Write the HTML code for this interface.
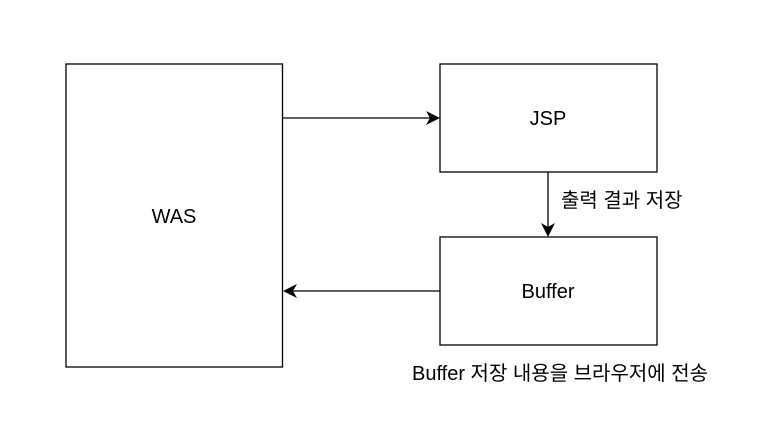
<!DOCTYPE html>
<html><head><meta charset="utf-8"><style>
html,body{margin:0;padding:0;background:#fff;}
svg{display:block;}
text{font-family:"Liberation Sans","Noto Sans CJK KR",sans-serif;fill:#000;}
</style></head><body>
<svg width="770" height="434" viewBox="0 0 770 434" xmlns="http://www.w3.org/2000/svg">
<rect width="770" height="434" fill="#fff"/>
<g fill="none" stroke="#000" stroke-width="1.3">
<rect x="66" y="64" width="216.5" height="303"/>
<rect x="440" y="64" width="217" height="108"/>
<rect x="440" y="237" width="217" height="108"/>
<line x1="282.5" y1="118" x2="430" y2="118"/>
<line x1="548" y1="172" x2="548" y2="227"/>
<line x1="440" y1="291" x2="293" y2="291"/>
</g>
<g fill="#000">
<polygon points="440,118 426,111 430,118 426,125"/>
<polygon points="548,237 541,223 548,227 555,223"/>
<polygon points="283,291 297,284 293,291 297,298"/>
</g>
<text x="174" y="223" font-size="20" text-anchor="middle">WAS</text>
<text x="548" y="125" font-size="20" text-anchor="middle">JSP</text>
<text x="548" y="298" font-size="20" text-anchor="middle">Buffer</text>
<text x="561" y="207" font-size="20">출력 결과 저장</text>
<text x="560" y="380" font-size="20" text-anchor="middle">Buffer 저장 내용을 브라우저에 전송</text>
</svg>
</body></html>
